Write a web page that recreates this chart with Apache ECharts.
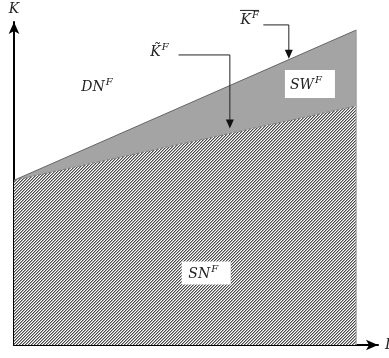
<!DOCTYPE html>
<html><head><meta charset="utf-8">
<script src="https://cdn.jsdelivr.net/npm/echarts@6/dist/echarts.min.js"></script>
<style>html,body{margin:0;padding:0;background:#fff}#c{width:389px;height:358px}</style>
</head><body><div id="c"></div>
<script>
// Data (axis units 0..100)
const xs = [0, 94];          // left / right edge of the shaded region
const lowerK = [51, 74];     // K-tilde line (top of SN^F)
const upperK = [51, 97.5];   // K-bar line (top of SW^F)
const axisNames = ['L', 'K'];
const regionNames = ['DN', 'SW', 'SN'];
const lineNames = ['K\u0303', 'K'];

const FONT = 'italic 14px "DejaVu Serif", "Liberation Serif", serif';
const SUPFONT = 'italic 10px "DejaVu Serif", "Liberation Serif", serif';

// hatch pattern
const pc = document.createElement('canvas');
pc.width = 3; pc.height = 3;
const pctx = pc.getContext('2d');
pctx.fillStyle = '#ffffff'; pctx.fillRect(0, 0, 3, 3);
for (let x = 0; x < 3; x++) for (let y = 0; y < 3; y++) {
  const k = (x + y) % 3;
  if (k === 0) { pctx.fillStyle = '#4a4a4a'; pctx.fillRect(x, y, 1, 1); }
  else if (k === 1) { pctx.fillStyle = '#a8a8a8'; pctx.fillRect(x, y, 1, 1); }
}

function label(p, main, sup, boxed, bw, bh) {
  const els = [];
  if (boxed) els.push({type: 'rect', shape: {x: p[0] - bw / 2, y: p[1] - bh / 2, width: bw, height: bh}, style: {fill: '#fff'}});
  els.push({type: 'text', style: {text: main, x: p[0] + 4, y: p[1] + 1, font: FONT, fill: '#222', textAlign: 'right', textVerticalAlign: 'middle'}});
  els.push({type: 'text', style: {text: sup, x: p[0] + 5, y: p[1] - 4, font: SUPFONT, fill: '#222', textAlign: 'left', textVerticalAlign: 'middle'}});
  return els;
}
function arrowDown(tip) {
  return {type: 'polygon', shape: {points: [[tip[0] - 4, tip[1] - 9], [tip[0] + 4, tip[1] - 9], [tip[0], tip[1]]]}, style: {fill: '#111'}};
}

const chart = echarts.init(document.getElementById('c'));
chart.setOption({
  animation: false,
  grid: {left: 14, right: 11, top: 22, bottom: 13, containLabel: false, outerBoundsMode: 'none'},
  xAxis: {type: 'value', min: 0, max: 100, splitLine: {show: false}, axisTick: {show: false}, axisLabel: {show: false},
    axisLine: {lineStyle: {color: '#000', width: 2}, symbol: ['none', 'arrow'], symbolSize: [8, 12], symbolOffset: [0, 0]},
    name: axisNames[0], nameLocation: 'end', nameGap: 7,
    nameTextStyle: {fontFamily: 'DejaVu Serif', fontStyle: 'italic', fontSize: 14, color: '#222', padding: [24, 0, 0, 0]}},
  yAxis: {type: 'value', min: 0, max: 100, splitLine: {show: false}, axisTick: {show: false}, axisLabel: {show: false},
    axisLine: {lineStyle: {color: '#000', width: 2}, symbol: ['none', 'arrow'], symbolSize: [8, 12], symbolOffset: [0, 0]},
    name: axisNames[1], nameLocation: 'end', nameGap: 6,
    nameTextStyle: {fontFamily: 'DejaVu Serif', fontStyle: 'italic', fontSize: 14, color: '#222', align: 'center'}},
  series: [{
    type: 'custom',
    data: [0],
    renderItem: function (params, api) {
      const c = (x, y) => api.coord([x, y]);
      const L0 = c(xs[0], lowerK[0]), L1 = c(xs[1], lowerK[1]);
      const U0 = c(xs[0], upperK[0]), U1 = c(xs[1], upperK[1]);
      const B0 = c(xs[0], 0), B1 = c(xs[1], 0);
      const ch = [];
      ch.push({type: 'polygon', shape: {points: [B0, L0, L1, B1]}, style: {fill: {image: pc, repeat: 'repeat'}}});
      ch.push({type: 'polygon', shape: {points: [U0, U1, L1]}, style: {fill: '#a4a4a4'}});
      ch.push({type: 'line', shape: {x1: U0[0], y1: U0[1], x2: U1[0], y2: U1[1]}, style: {stroke: '#666', lineWidth: 1}});
      ch.push({type: 'line', shape: {x1: L0[0], y1: L0[1], x2: L1[0], y2: L1[1]}, style: {stroke: '#777', lineWidth: 1, lineDash: [3, 2]}});
      ch.push({type: 'line', shape: {x1: U1[0], y1: U1[1], x2: B1[0], y2: B1[1]}, style: {stroke: '#999', lineWidth: 1}});
      // callout K-tilde
      const t1 = c(45.2, 89.8), t2 = c(59.3, 89.8), t3 = c(59.3, 67);
      ch.push({type: 'polyline', shape: {points: [t1, t2, [t3[0], t3[1] - 8]]}, style: {stroke: '#222', lineWidth: 1, fill: null}});
      ch.push(arrowDown(t3));
      ch.push(...label(c(39.2, 91.0), lineNames[0], 'F', false));
      // callout K-bar
      const b1 = c(68.5, 99.1), b2 = c(75.5, 99.1), b3 = c(75.5, 88.6);
      ch.push({type: 'polyline', shape: {points: [b1, b2, [b3[0], b3[1] - 8]]}, style: {stroke: '#222', lineWidth: 1, fill: null}});
      ch.push(arrowDown(b3));
      const kb = c(64.0, 100.8);
      ch.push(...label(kb, lineNames[1], 'F', false));
      ch.push({type: 'line', shape: {x1: kb[0] - 7, y1: kb[1] - 9, x2: kb[0] + 12, y2: kb[1] - 9}, style: {stroke: '#222', lineWidth: 1}});
      // regions
      ch.push(...label(c(23.8, 80.2), regionNames[0], 'F', false));
      ch.push(...label(c(81.3, 80.8), regionNames[1], 'F', true, 50, 28));
      ch.push(...label(c(52.8, 22.3), regionNames[2], 'F', true, 49, 23));
      return {type: 'group', children: ch};
    }
  }]
});
</script></body></html>
